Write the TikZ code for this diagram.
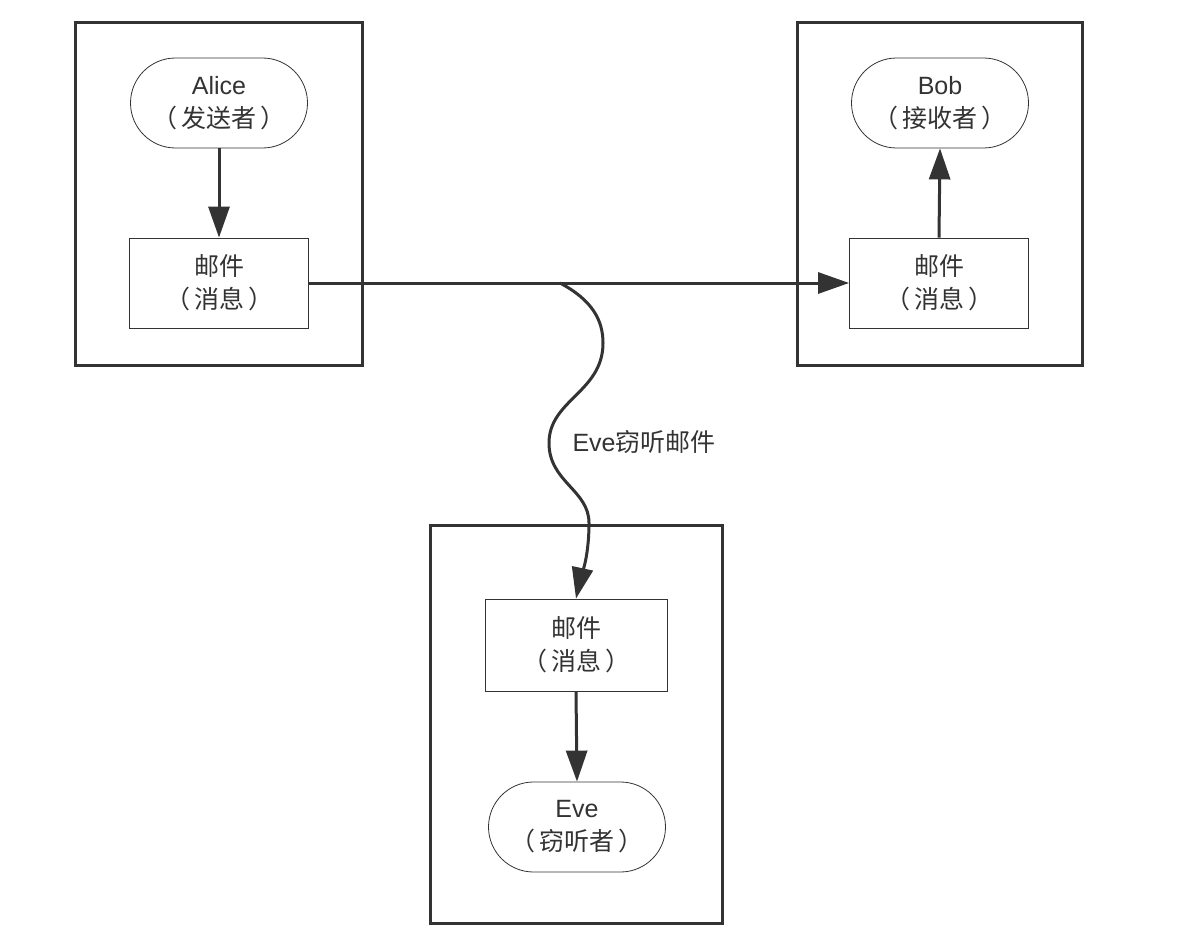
\documentclass[tikz,border=0pt]{standalone}
\usepackage{fontspec}
\setmainfont{Liberation Sans}
\newfontfamily\cjk{Noto Sans CJK SC}
\usetikzlibrary{shapes.misc,arrows.meta}
\definecolor{ink}{HTML}{333333}
\newcommand{\paren}[1]{{\cjk （\hspace{4pt}#1\hspace{4pt}）}}
\begin{document}
\begin{tikzpicture}[x=1pt,y=-1pt,
  outerbox/.style={draw=ink,line width=3pt},
  stadium/.style={draw=ink,line width=0.8pt,rounded rectangle,minimum width=177pt,minimum height=90pt,align=center,font=\fontsize{25}{33}\selectfont,inner sep=0pt,text=ink},
  mailbox/.style={draw=ink,line width=0.8pt,rectangle,minimum width=179pt,minimum height=90pt,align=center,font=\fontsize{25}{33}\selectfont,inner sep=0pt,text=ink},
  flow/.style={draw=ink,line width=3pt,-{Triangle[length=31pt,width=21pt]}},
  lbl/.style={font=\fontsize{25}{30}\selectfont,text=ink}
]
\useasboundingbox (0,0) rectangle (1183,931);
\fill[white] (0,0) rectangle (1183,931);
% outer boxes
\draw[outerbox] (75,23) rectangle (362,365);
\draw[outerbox] (797,23) rectangle (1082,365);
\draw[outerbox] (430,525) rectangle (722,923);
% nodes
\node[stadium] (alice) at (219,103) {Alice\\\paren{发送者}};
\node[mailbox] (amail) at (219,283) {{\cjk 邮件}\\\paren{消息}};
\node[stadium] (bob) at (940,103) {Bob\\\paren{接收者}};
\node[mailbox] (bmail) at (939,283) {{\cjk 邮件}\\\paren{消息}};
\node[mailbox,minimum width=182pt,minimum height=92pt] (email) at (576,645) {{\cjk 邮件}\\\paren{消息}};
\node[stadium] (eve) at (577,827) {Eve\\\paren{窃听者}};
% connectors
\draw[flow] (alice.south) -- (amail.north);
\draw[flow] (bmail.north) -- (bob.south);
\draw[flow] (amail.east) -- (bmail.west);
\draw[flow] (email.south) -- (eve.north);
\coordinate (tap) at (560,283);
\draw[flow] (tap) .. controls (592,300) and (603,320) .. (603,343)
  .. controls (603,392) and (549,400) .. (549,443)
  .. controls (549,482) and (589,490) .. (589,523)
  .. controls (589,560) and (580,580) .. (email.north);
\node[lbl,anchor=west] (evelbl) at (569,442) {Eve{\cjk 窃听邮件}};
\end{tikzpicture}
\end{document}
